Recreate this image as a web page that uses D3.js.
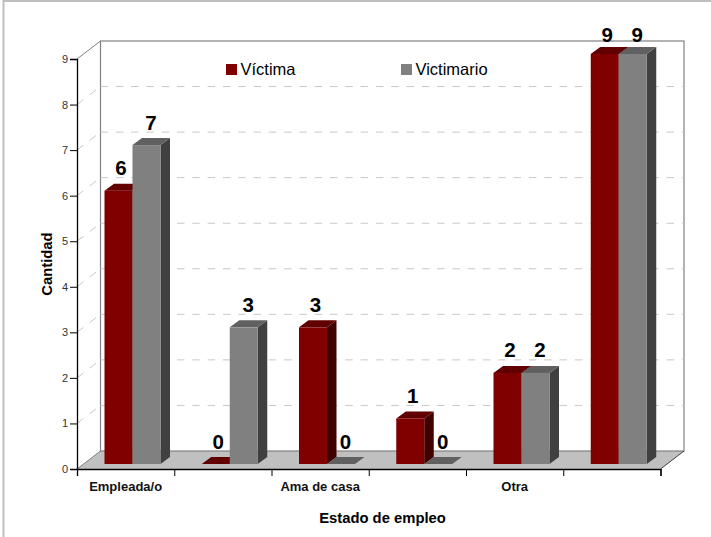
<!DOCTYPE html>
<html>
<head>
<meta charset="utf-8">
<script src="https://cdn.jsdelivr.net/npm/d3@7"></script>
<style>
  html, body { margin: 0; padding: 0; background: #fff; }
  svg { display: block; font-family: "Liberation Sans", Arial, sans-serif; }
</style>
</head>
<body>
<svg width="711" height="537"></svg>
<script>
var categories = ["Empleada/o", "", "Ama de casa", "", "Otra", ""];
var victima = [6, 0, 3, 1, 2, 9];
var victimario = [7, 3, 0, 0, 2, 9];
var yTicks = [0, 1, 2, 3, 4, 5, 6, 7, 8, 9];
var seriesNames = ["Víctima", "Victimario"];

var svg = d3.select("svg");

// outer frame, only top and left show in the picture
svg.append("path").attr("d", "M3.5,537V1H711").attr("fill", "none")
  .attr("stroke", "#c0c0c0").attr("stroke-width", 2);

var left = 77, right = 660.5, top0 = 59, bottom = 469;
var wallDx = 23.5, wallDy = -18;   // floor depth
var barDx = 9.5, barDy = -7;       // bar depth
var barShift = 27.5, barLift = 5;  // bars sit a bit inside the floor

var idx = categories.map((c, i) => i);
var x = d3.scaleBand().domain(idx).range([left, right]);
var xEdges = d3.scaleLinear().domain([0, categories.length]).range([left, right]);
var xSeries = d3.scaleBand().domain([0, 1]).range([0, 56]);
var y = d3.scaleLinear().domain([0, 9]).range([bottom, top0]);

var colors = [
  {front: "#800000", top: "#600000", side: "#400000"},
  {front: "#808080", top: "#606060", side: "#404040"}
];

var poly = pts => "M" + pts.map(p => p.join(",")).join("L") + "Z";

// floor
svg.append("path")
  .attr("d", poly([[left, bottom], [left + wallDx, bottom + wallDy], [right + wallDx, bottom + wallDy], [right, bottom]]))
  .attr("fill", "#c0c0c0");

// back wall
svg.append("rect")
  .attr("x", left + wallDx).attr("y", top0 + wallDy)
  .attr("width", right - left).attr("height", bottom - top0)
  .attr("fill", "none").attr("stroke", "#808080").attr("stroke-width", 1.2);

svg.append("path")
  .attr("d", "M" + left + "," + top0 + "l" + wallDx + "," + wallDy + "M" + left + "," + bottom + "l" + wallDx + "," + wallDy)
  .attr("fill", "none").attr("stroke", "#808080").attr("stroke-width", 1);

svg.append("path")
  .attr("d", "M" + right + "," + bottom + "l" + wallDx + "," + wallDy)
  .attr("fill", "none").attr("stroke", "#404040").attr("stroke-width", 1);

// gridlines on the back wall and the left wall
var grid = svg.append("g").attr("fill", "none").attr("stroke", "#c8c8c8").attr("stroke-width", 1);
grid.selectAll("line.back")
  .data(yTicks.slice(1, -1))
  .enter().append("line")
    .attr("class", "back")
    .attr("x1", left + wallDx).attr("x2", right + wallDx)
    .attr("y1", d => y(d) + wallDy).attr("y2", d => y(d) + wallDy)
    .attr("stroke-dasharray", "7.5,7.8");
grid.selectAll("line.side")
  .data(yTicks.slice(1, -1))
  .enter().append("line")
    .attr("class", "side")
    .attr("x1", left).attr("x2", left + wallDx)
    .attr("y1", d => y(d)).attr("y2", d => y(d) + wallDy)
    .attr("stroke-dasharray", "8,8");

// bars
function drawBar(g, i, s, v) {
  var x0 = x(i) + barShift + xSeries(s);
  var x1 = x0 + xSeries.bandwidth();
  var yTop = y(v) - barLift, yBase = y(0) - barLift;
  var c = colors[s];
  g.append("path")
    .attr("d", poly([[x1, yTop], [x1 + barDx, yTop + barDy], [x1 + barDx, yBase + barDy], [x1, yBase]]))
    .attr("fill", c.side);
  g.append("path")
    .attr("d", poly([[x0, yTop], [x0 + barDx, yTop + barDy], [x1 + barDx, yTop + barDy], [x1, yTop]]))
    .attr("fill", c.top);
  g.append("rect")
    .attr("x", x0).attr("y", yTop)
    .attr("width", x1 - x0).attr("height", yBase - yTop)
    .attr("fill", c.front);
}

var bars = svg.append("g");
var labels = [];
idx.forEach(function(i) {
  [victima[i], victimario[i]].forEach(function(v, s) {
    drawBar(bars, i, s, v);
    labels.push({i: i, s: s, v: v});
  });
});

svg.append("g")
  .selectAll("text")
  .data(labels)
  .enter().append("text")
    .attr("x", d => x(d.i) + barShift + xSeries(d.s) + xSeries.bandwidth() / 2 + 2.5 + 2 * d.s)
    .attr("y", d => Math.max(42, y(d.v) - barLift - 15.5))
    .attr("text-anchor", "middle")
    .attr("font-size", 20.5)
    .attr("font-weight", "bold")
    .attr("fill", "#000")
    .text(d => d.v);

// axes
var yAxis = svg.append("g")
  .attr("transform", "translate(" + left + ",0)")
  .call(d3.axisLeft(y).tickValues(yTicks).tickSize(7).tickPadding(2).tickFormat(d3.format("d")));
yAxis.selectAll("text").attr("font-size", 11).attr("font-family", null).attr("fill", "#333");
yAxis.selectAll("line").attr("stroke", "#000");
yAxis.select(".domain").attr("stroke-width", 1.3);

var xTicks = svg.append("g")
  .attr("transform", "translate(0," + bottom + ")")
  .call(d3.axisBottom(xEdges).tickValues(d3.range(categories.length + 1)).tickSize(7).tickFormat(""));
xTicks.selectAll("line").attr("stroke", "#000");
xTicks.select(".domain").attr("stroke-width", 1.3);

var xLabels = svg.append("g")
  .attr("transform", "translate(0," + bottom + ")")
  .call(d3.axisBottom(x).tickSize(0).tickPadding(13).tickFormat(i => categories[i]));
xLabels.select(".domain").remove();
xLabels.selectAll("text").attr("font-size", 13).attr("font-family", null).attr("font-weight", "bold").attr("fill", "#111");

// axis titles
svg.append("text")
  .attr("x", 382.5).attr("y", 523)
  .attr("text-anchor", "middle").attr("font-size", 14.8).attr("font-weight", "bold")
  .text("Estado de empleo");
svg.append("text")
  .attr("transform", "translate(51.5,264) rotate(-90)")
  .attr("text-anchor", "middle").attr("font-size", 14.8).attr("font-weight", "bold")
  .text("Cantidad");

// legend
var legend = svg.append("g")
  .selectAll("g")
  .data(seriesNames)
  .enter().append("g")
    .attr("transform", (d, i) => "translate(" + (226 + i * 175) + ",64)");
legend.append("rect")
  .attr("width", 11).attr("height", 11)
  .attr("fill", (d, i) => colors[i].front);
legend.append("text")
  .attr("x", 14.5).attr("y", 11)
  .attr("font-size", 16.5)
  .attr("fill", "#000")
  .text(d => d);
</script>
</body>
</html>
